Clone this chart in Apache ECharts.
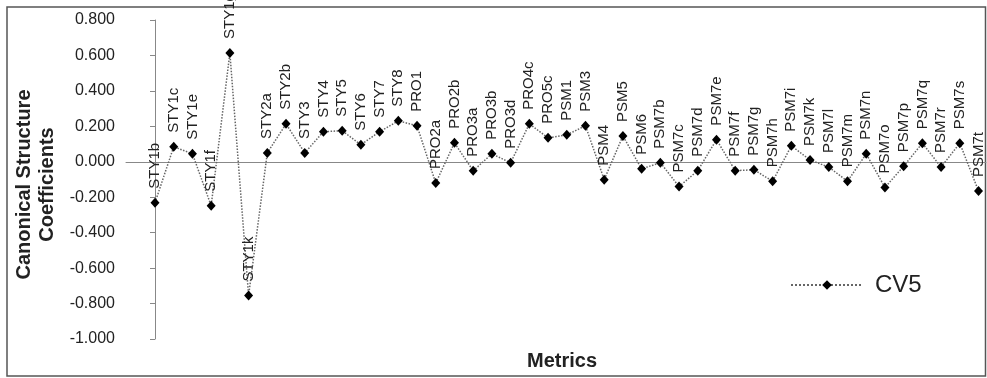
<!DOCTYPE html>
<html>
<head>
<meta charset="utf-8">
<script src="https://cdn.jsdelivr.net/npm/echarts@6/dist/echarts.min.js"></script>
<style>
  html, body { margin: 0; padding: 0; background: #fff; }
  #chart { width: 987px; height: 378px; }
</style>
</head>
<body>
<div id="chart"></div>
<script>
const categories = [
  "STY1b","STY1c","STY1e","STY1f","STY1g","STY1k","STY2a","STY2b","STY3","STY4",
  "STY5","STY6","STY7","STY8","PRO1","PRO2a","PRO2b","PRO3a","PRO3b","PRO3d",
  "PRO4c","PRO5c","PSM1","PSM3","PSM4","PSM5","PSM6","PSM7b","PSM7c","PSM7d",
  "PSM7e","PSM7f","PSM7g","PSM7h","PSM7i","PSM7k","PSM7l","PSM7m","PSM7n","PSM7o",
  "PSM7p","PSM7q","PSM7r","PSM7s","PSM7t"
];
const cv5 = [
  -0.231, 0.085, 0.045, -0.248, 0.614, -0.755, 0.050, 0.214, 0.050, 0.170,
  0.175, 0.096, 0.170, 0.231, 0.203, -0.120, 0.107, -0.051, 0.045, -0.006,
  0.214, 0.135, 0.152, 0.203, -0.101, 0.146, -0.040, -0.005, -0.140, -0.050,
  0.125, -0.050, -0.045, -0.110, 0.090, 0.010, -0.030, -0.110, 0.045, -0.145,
  -0.025, 0.105, -0.030, 0.105, -0.165
];
const seriesName = "CV5";
const yTicks = { min: -1.0, max: 0.8, interval: 0.2 };
const yTitle = "Canonical Structure\nCoefficients";
const xTitle = "Metrics";

const font = "Liberation Sans, Arial, sans-serif";
const chart = echarts.init(document.getElementById('chart'));

const data = categories.map((c, i) => ({ value: [i, cv5[i]], name: c }));

chart.setOption({
  animation: false,
  backgroundColor: '#ffffff',
  title: {
    text: xTitle,
    left: 557,
    top: 346,
    textAlign: 'center',
    textStyle: { fontFamily: font, fontSize: 20, fontWeight: 'bold', color: '#222' }
  },
  graphic: [{
    type: 'rect',
    shape: { x: 7, y: 7, width: 978.5, height: 369 },
    style: { fill: 'none', stroke: '#555', lineWidth: 1.5 },
    silent: true
  }],
  legend: {
    show: true,
    left: 785,
    top: 268,
    itemWidth: 72,
    itemHeight: 12,
    textStyle: { fontFamily: font, fontSize: 24, color: '#222', padding: [0, 0, 0, 7] },
    data: [seriesName]
  },
  grid: { left: 126, right: 1, top: 20, bottom: 39, containLabel: false },
  xAxis: {
    type: 'value',
    min: -1.55,
    max: 44.4,
    axisLine: { show: true, onZero: true, lineStyle: { color: '#888', width: 1 } },
    axisTick: { show: false },
    axisLabel: { show: false },
    splitLine: { show: false }
  },
  yAxis: {
    type: 'value',
    min: yTicks.min,
    max: yTicks.max,
    interval: yTicks.interval,
    name: yTitle,
    nameLocation: 'middle',
    nameGap: 65,
    nameTextStyle: { fontFamily: font, fontSize: 20, fontWeight: 'bold', color: '#222', lineHeight: 23, padding: [0, 10, 0, 0] },
    axisLine: { show: true, lineStyle: { color: '#888', width: 1 } },
    axisTick: { show: true, length: 5, lineStyle: { color: '#888' } },
    axisLabel: {
      margin: 11,
      fontFamily: font,
      fontSize: 16,
      color: '#222',
      formatter: v => v.toFixed(3)
    },
    splitLine: { show: false }
  },
  series: [{
    name: seriesName,
    type: 'line',
    data: data,
    symbol: 'diamond',
    symbolSize: [9, 10],
    itemStyle: { color: '#000' },
    lineStyle: { color: '#666', width: 1.5, type: 'dotted' },
    label: {
      show: true,
      position: 'top',
      rotate: 90,
      align: 'left',
      verticalAlign: 'middle',
      distance: 9,
      fontFamily: font,
      fontSize: 15,
      color: '#222',
      formatter: p => p.name
    }
  }]
});
</script>
</body>
</html>
